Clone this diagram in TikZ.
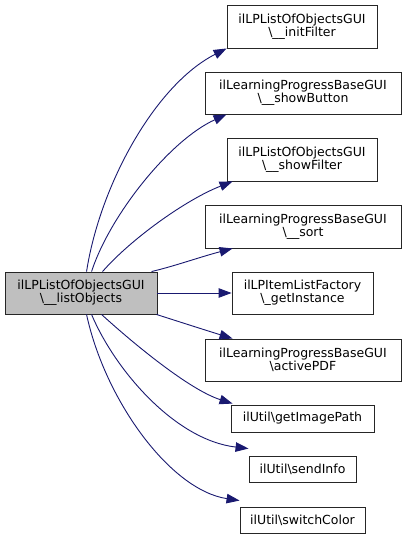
\documentclass[tikz,border=0pt]{standalone}
\usepackage{fontspec}
\setmainfont{DejaVu Sans}
\usetikzlibrary{arrows.meta}
\definecolor{edgeblue}{HTML}{191970}
\definecolor{mainfill}{HTML}{BFBFBF}
\begin{document}
\begin{tikzpicture}[x=1pt,y=-1pt,
  box/.style={draw=black!85, line width=0.9pt, fill=white, inner sep=0pt, align=center,
    font=\fontsize{12.5}{13}\selectfont},
  mainbox/.style={box, fill=mainfill},
  call/.style={draw=edgeblue, line width=0.9pt, -{Triangle[length=13pt,width=9.5pt]}, fill=none}
]
\useasboundingbox (0,0) rectangle (405,539);
\node[mainbox, minimum width=152pt, minimum height=42pt] (main) at (81,293) {ilLPListOfObjectsGUI\\\textbackslash\_\_listObjects};
\node[box, minimum width=150pt, minimum height=43pt] (n1) at (302,26.5) {ilLPListOfObjectsGUI\\\textbackslash\_\_initFilter};
\node[box, minimum width=196pt, minimum height=42pt] (n2) at (303,93) {ilLearningProgressBaseGUI\\\textbackslash\_\_showButton};
\node[box, minimum width=150pt, minimum height=43pt] (n3) at (302,159.5) {ilLPListOfObjectsGUI\\\textbackslash\_\_showFilter};
\node[box, minimum width=196pt, minimum height=43pt] (n4) at (303,226.5) {ilLearningProgressBaseGUI\\\textbackslash\_\_sort};
\node[box, minimum width=141pt, minimum height=42pt] (n5) at (302.5,293) {ilLPItemListFactory\\\textbackslash\_getInstance};
\node[box, minimum width=196pt, minimum height=42pt] (n6) at (303,360) {ilLearningProgressBaseGUI\\\textbackslash activePDF};
\node[box, minimum width=143pt, minimum height=27pt] (n7) at (302.5,418.5) {ilUtil\textbackslash getImagePath};
\node[box, minimum width=107pt, minimum height=26pt] (n8) at (302.5,469) {ilUtil\textbackslash sendInfo};
\node[box, minimum width=125pt, minimum height=26pt] (n9) at (302.5,520) {ilUtil\textbackslash switchColor};

\draw[call] ([xshift=82pt]main.north west) .. controls (100,185) and (155,85) .. (n1.south west);
\draw[call] ([xshift=87pt]main.north west) .. controls (110,215) and (170,140) .. ([xshift=22pt]n2.south west);
\draw[call] ([xshift=98pt]main.north west) .. controls (130,240) and (185,200) .. ([xshift=6pt]n3.south west);
\draw[call] ([xshift=147pt]main.north west) .. controls (175,266) and (200,257) .. ([xshift=28pt]n4.south west);
\draw[call] (main.east) -- (n5.west);
\draw[call] ([xshift=-1pt]main.south east) .. controls (180,322) and (205,330) .. ([xshift=28pt]n6.north west);
\draw[call] ([xshift=97pt]main.south west) .. controls (135,345) and (190,390) .. ([xshift=2pt,yshift=1pt]n7.north west);
\draw[call] ([xshift=87pt]main.south west) .. controls (115,370) and (175,440) .. ([yshift=7pt]n8.north west);
\draw[call] ([xshift=82pt]main.south west) .. controls (105,400) and (170,490) .. ([yshift=6pt]n9.north west);
\end{tikzpicture}
\end{document}
